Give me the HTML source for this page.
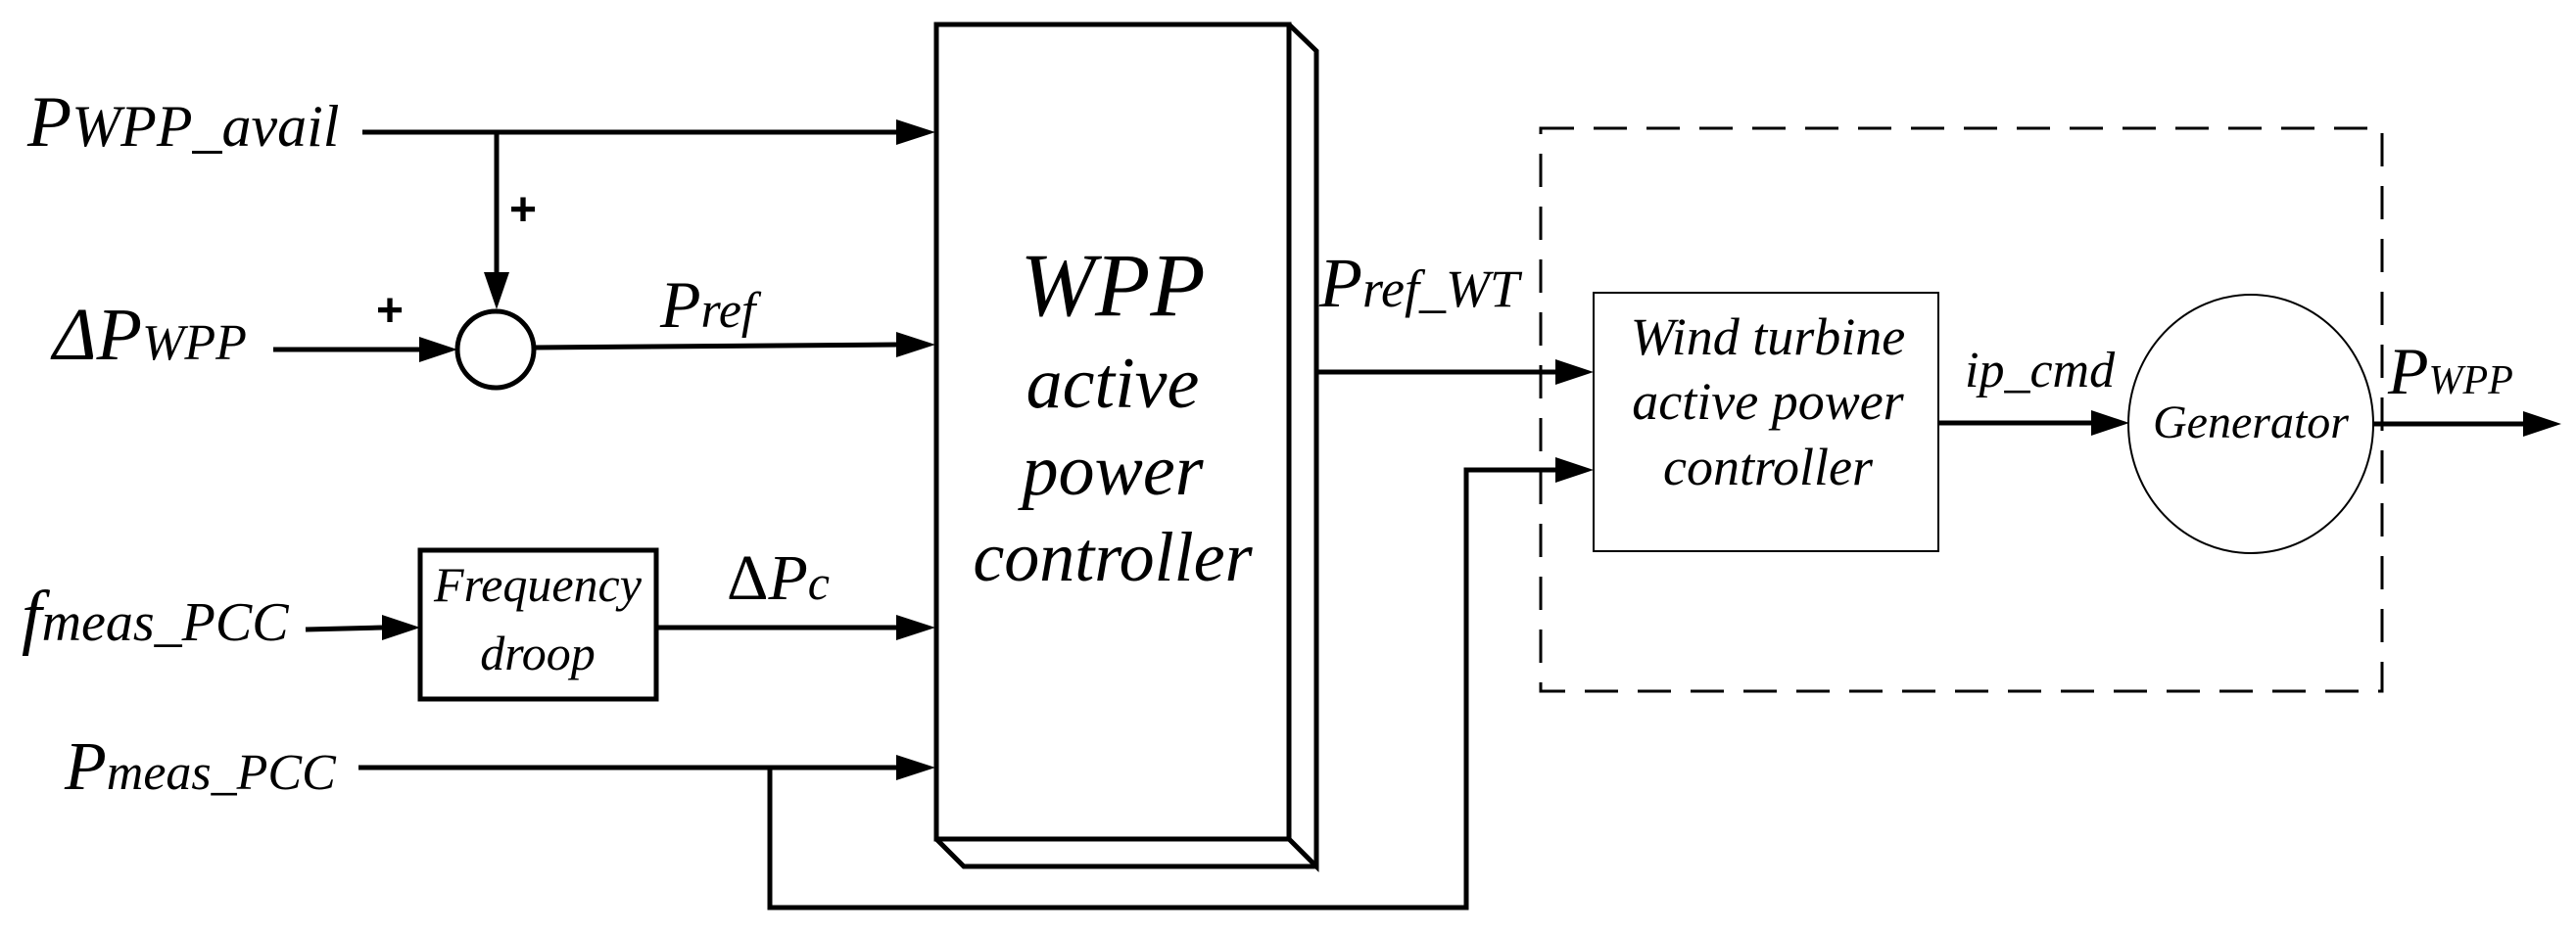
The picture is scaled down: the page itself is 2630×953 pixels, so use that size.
<!DOCTYPE html>
<html><head><meta charset="utf-8"><style>
html,body{margin:0;padding:0;background:#fff;}
svg{display:block;}
text{font-family:"Liberation Serif",serif;font-style:italic;fill:#000;}
</style></head><body>
<svg width="2630" height="953" viewBox="0 0 2630 953" xmlns="http://www.w3.org/2000/svg">
<g stroke="#000" stroke-width="5" fill="none">
<rect x="956" y="25" width="360" height="832" fill="#fff"/>
<polyline points="1316,25 1344,52 1344,885 1316,857"/>
<polyline points="956,857 984,885 1344,885"/>
<line x1="370" y1="135" x2="915" y2="135"/>
<line x1="507" y1="135" x2="507" y2="280"/>
<circle cx="506" cy="357" r="39"/>
<line x1="279" y1="357" x2="430" y2="357"/>
<line x1="545" y1="355" x2="915" y2="352"/>
<line x1="312" y1="643" x2="390" y2="641"/>
<rect x="429" y="562" width="241" height="152"/>
<line x1="670" y1="641" x2="915" y2="641"/>
<line x1="366" y1="784" x2="915" y2="784"/>
<polyline points="786,784 786,927 1497,927 1497,480 1590,480"/>
<line x1="1344" y1="380" x2="1590" y2="380"/>
<line x1="1979" y1="432" x2="2135" y2="432"/>
<line x1="2423" y1="433" x2="2578" y2="433"/>
</g>
<g fill="#000">
<polygon points="955,135 915,122 915,148"/>
<polygon points="507,316 494,278 520,278"/>
<polygon points="467,357 428,344 428,370"/>
<polygon points="955,352 915,339 915,365"/>
<polygon points="429,641 390,628 390,654"/>
<polygon points="955,641 915,628 915,654"/>
<polygon points="955,784 915,771 915,797"/>
<polygon points="1627,380 1588,367 1588,393"/>
<polygon points="1627,480 1588,467 1588,493"/>
<polygon points="2174,432 2135,419 2135,445"/>
<polygon points="2615,433 2576,420 2576,446"/>
</g>
<rect x="1573" y="131" width="859" height="575" fill="none" stroke="#000" stroke-width="3" stroke-dasharray="34,20"/>
<rect x="1627" y="299" width="352" height="264" fill="#fff" stroke="#000" stroke-width="2"/>
<ellipse cx="2298" cy="433" rx="125" ry="132" fill="#fff" stroke="#000" stroke-width="2"/>
<text x="520" y="230" font-size="48" style="font-style:normal;font-family:'Liberation Sans',sans-serif;font-weight:bold">+</text>
<text x="384" y="333" font-size="48" style="font-style:normal;font-family:'Liberation Sans',sans-serif;font-weight:bold">+</text>
<text x="28" y="149" font-size="74">P<tspan font-size="60">WPP_avail</tspan></text>
<text x="54" y="367" font-size="76">ΔP<tspan font-size="52">WPP</tspan></text>
<text x="22" y="654" font-size="74">f<tspan font-size="56">meas_PCC</tspan></text>
<text x="66" y="806" font-size="70">P<tspan font-size="52">meas_PCC</tspan></text>
<text x="674" y="334" font-size="68">P<tspan font-size="52">ref</tspan></text>
<text x="742" y="612" font-size="66" style="font-style:normal">Δ<tspan style="font-style:italic">P</tspan><tspan font-size="50" style="font-style:italic">c</tspan></text>
<text x="1347" y="313" font-size="72">P<tspan font-size="54">ref_WT</tspan></text>
<text x="2006" y="395" font-size="52">ip_cmd</text>
<text x="2438" y="402" font-size="68">P<tspan font-size="42">WPP</tspan></text>
<g text-anchor="middle">
<text x="1136" y="322" font-size="92">WPP</text>
<text x="1136" y="416" font-size="74">active</text>
<text x="1136" y="505" font-size="74">power</text>
<text x="1136" y="593" font-size="72">controller</text>
<text x="549" y="614" font-size="50">Frequency</text>
<text x="549" y="684" font-size="50">droop</text>
<text x="1805" y="362" font-size="54">Wind turbine</text>
<text x="1805" y="428" font-size="54">active power</text>
<text x="1805" y="495" font-size="54">controller</text>
<text x="2298" y="447" font-size="48">Generator</text>
</g>
</svg>
</body></html>
